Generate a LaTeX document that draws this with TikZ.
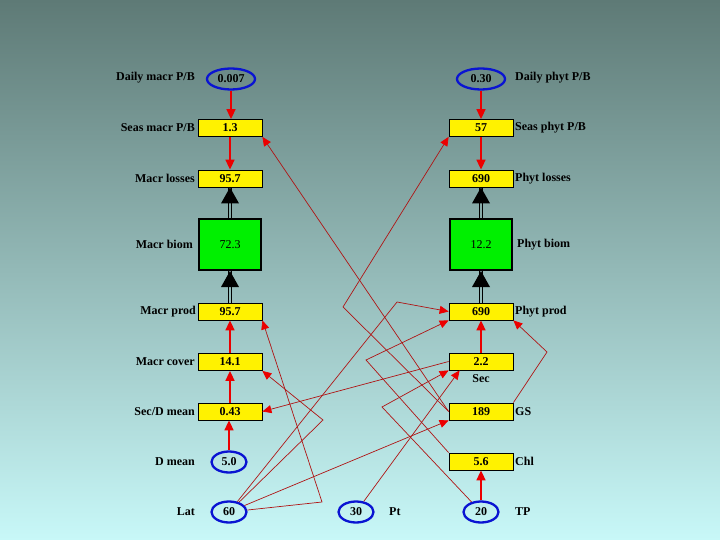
\documentclass[tikz,border=0pt]{standalone}
\usepackage{fontspec}
\setmainfont{Liberation Serif}
\usetikzlibrary{arrows.meta,shapes.geometric,calc}
\definecolor{bgtop}{RGB}{94,122,118}
\definecolor{bgbot}{RGB}{200,248,248}
\definecolor{lnred}{RGB}{175,20,20}
\definecolor{arred}{RGB}{235,0,0}
\definecolor{ellblue}{RGB}{10,20,210}
\definecolor{gfill}{RGB}{0,240,0}
\begin{document}
\begin{tikzpicture}[x=1pt,y=-1pt,
  lab/.style={font=\bfseries\fontsize{12}{14}\selectfont, inner sep=0pt},
  ybox/.style={draw=black, line width=0.8pt, fill=yellow, minimum width=64pt, minimum height=17pt, inner sep=0pt, font=\bfseries\fontsize{12}{14}\selectfont},
  gbox/.style={draw=black, line width=2.5pt, fill=gfill, minimum width=62pt, minimum height=50.5pt, inner sep=0pt, font=\fontsize{12}{14}\selectfont},
  ell/.style={ellipse, draw=ellblue, line width=2.3pt, minimum width=48pt, minimum height=21pt, inner sep=0pt, font=\bfseries\fontsize{12}{14}\selectfont},
  sell/.style={ell, minimum width=35pt},
  conn/.style={draw=lnred, line width=0.7pt, -{Triangle[length=9pt,width=8pt,color=arred]}},
  varr/.style={color=arred, line width=1.6pt, -{Triangle[length=10pt,width=9pt]}},
  blk/.style={draw=black, line width=0.9pt}
  ]
\useasboundingbox (0,0) rectangle (720,540);
\shade[top color=bgtop, bottom color=bgbot] (0,0) rectangle (720,540);

% left column
\node[ell] (dmpb) at (231,79) {0.007};
\node[lab, anchor=east] at (195,78) {Daily macr P/B};
\node[ybox] (smpb) at (230,128) {1.3};
\node[lab, anchor=east] at (195,128) {Seas macr P/B};
\node[ybox] (mloss) at (230,178.5) {95.7};
\node[lab, anchor=east] at (195,178.5) {Macr losses};
\node[gbox] (mbiom) at (230,244.5) {72.3};
\node[lab, anchor=east] at (193,244.5) {Macr biom};
\node[ybox] (mprod) at (230,311.5) {95.7};
\node[lab, anchor=east] at (196,311.5) {Macr prod};
\node[ybox] (mcov) at (230,362) {14.1};
\node[lab, anchor=east] at (195,362) {Macr cover};
\node[ybox] (secd) at (230,411.5) {0.43};
\node[lab, anchor=east] at (195,411.5) {Sec/D mean};
\node[sell] (dmean) at (229,462) {5.0};
\node[lab, anchor=east] at (195,462) {D mean};
\node[sell] (lat) at (229,512) {60};
\node[lab, anchor=east] at (195,512) {Lat};

% right column
\node[ell] (dppb) at (481,79) {0.30};
\node[lab, anchor=west] at (515,78) {Daily phyt P/B};
\node[ybox] (sppb) at (481,128) {57};
\node[lab, anchor=west] at (515,128) {Seas phyt P/B};
\node[ybox] (ploss) at (481,178.5) {690};
\node[lab, anchor=west] at (515,178.5) {Phyt losses};
\node[gbox] (pbiom) at (481,244.5) {12.2};
\node[lab, anchor=west] at (517,244.5) {Phyt biom};
\node[ybox] (pprod) at (481,311.5) {690};
\node[lab, anchor=west] at (515,311.5) {Phyt prod};
\node[ybox] (sec) at (481,361.5) {2.2};
\node[lab] at (481,379) {Sec};
\node[ybox] (gs) at (481,411.5) {189};
\node[lab, anchor=west] at (515,411.5) {GS};
\node[ybox] (chl) at (481,461.5) {5.6};
\node[lab, anchor=west] at (515,461.5) {Chl};
\node[sell] (tp) at (481,512) {20};
\node[lab, anchor=west] at (515,512) {TP};
\node[sell] (pt) at (356,512) {30};
\node[lab, anchor=west] at (389,512) {Pt};

% kinks
\coordinate (k1) at (343,307);
\coordinate (k2) at (322,502);
\coordinate (k3) at (323,420);
\coordinate (k4) at (397,302);
\coordinate (k5) at (366,360);
\coordinate (k6) at (382,407);
\coordinate (k7) at (547,352);

% thin connectors
\draw[conn] (gs.west) -- (smpb.south east);
\draw[conn] (gs.west) -- (k1) -- (sppb.south west);
\draw[conn] (lat) -- (k2) -- (mprod.south east);
\draw[conn] (lat) -- (k3) -- (mcov.south east);
\draw[conn] (sec.west) -- (secd.east);
\draw[conn] (lat) -- (k4) -- (pprod.west);
\draw[conn] (chl.north west) -- (k5) -- (pprod.south west);
\draw[conn] (tp) -- (k6) -- (sec.south west);
\draw[conn] (pt) -- ([xshift=11pt]sec.south west);
\draw[conn] (lat) -- (gs.south west);
\draw[conn] (gs.north east) -- (k7) -- (pprod.south east);

% thick red arrows
\draw[varr] (dmpb.south) -- (dmpb.south |- smpb.north);
\draw[varr] (smpb.south) -- (mloss.north);
\draw[varr] (secd.north) -- (mcov.south);
\draw[varr] (mcov.north) -- (mprod.south);
\draw[varr] (dmean.north) -- (dmean.north |- secd.south);
\draw[varr] (dppb.south) -- (sppb.north);
\draw[varr] (sppb.south) -- (ploss.north);
\draw[varr] (sec.north) -- (pprod.south);
\draw[varr] (tp.north) -- (chl.south);

% black flow arrows (double line + head)
\foreach \a/\b in {mprod/mbiom, mbiom/mloss, pprod/pbiom, pbiom/ploss}{
  \draw[blk] ([xshift=-1.6pt]\a.north) -- ([xshift=-1.6pt]\b.south);
  \draw[blk] ([xshift=1.6pt]\a.north) -- ([xshift=1.6pt]\b.south);
  \fill[black] (\b.south) -- ++(-9,16) -- ++(18,0) -- cycle;
}
\end{tikzpicture}
\end{document}
